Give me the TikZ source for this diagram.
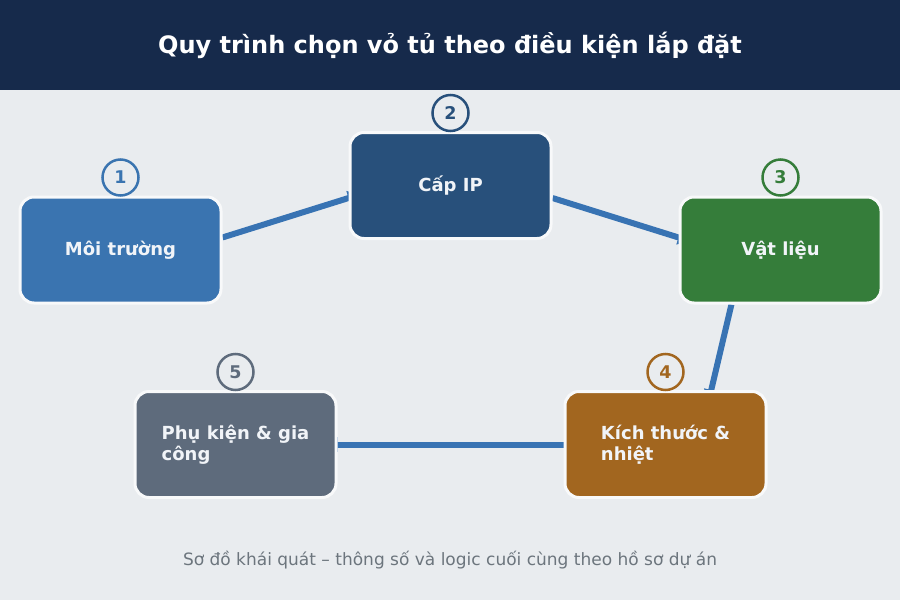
\documentclass[tikz,border=0pt]{standalone}
\usepackage{fontspec}
\setmainfont{DejaVu Sans}
\usetikzlibrary{arrows.meta,calc}
\definecolor{bgc}{HTML}{E9ECEF}
\definecolor{titlec}{HTML}{162A4B}
\definecolor{cone}{HTML}{3A74B0}
\definecolor{ctwo}{HTML}{28507B}
\definecolor{cthree}{HTML}{357D3A}
\definecolor{cfour}{HTML}{A2661F}
\definecolor{cfive}{HTML}{5E6B7C}
\definecolor{arrowc}{HTML}{3873B3}
\definecolor{footc}{HTML}{6C757D}
\definecolor{edgec}{HTML}{F8F9FA}
\definecolor{textc}{HTML}{F1F4F8}
\pgfdeclarelayer{bglayer}
\pgfdeclarelayer{arrowlayer}
\pgfsetlayers{bglayer,arrowlayer,main}
\tikzset{
  stepbox/.style={draw=edgec, fill=#1, line width=3pt, rounded corners=14pt,
    minimum width=201pt, minimum height=106pt, text=textc, inner sep=0pt,
    font=\bfseries\fontsize{18}{21}\selectfont, align=left},
  numc/.style={circle, draw=#1, fill=bgc, text=#1, line width=2.5pt,
    minimum size=36pt, inner sep=0pt, font=\bfseries\fontsize{17.5}{20}\selectfont},
  flow/.style={draw=arrowc, line width=6pt, shorten >=-12pt,
    -{Triangle[length=12pt,width=14pt]}}
}
\begin{document}
\begin{tikzpicture}[x=1pt,y=-1pt]
\useasboundingbox (0,0) rectangle (900,600);
\begin{pgfonlayer}{bglayer}
\fill[bgc] (0,0) rectangle (900,600);
\fill[titlec] (0,0) rectangle (900,90);
\end{pgfonlayer}
\node[text=white, font=\bfseries\fontsize{24}{28}\selectfont] (title) at (450,45) {Quy trình chọn vỏ tủ theo điều kiện lắp đặt};

\node[stepbox=cone] (n1) at (120.5,250) {Môi trường};
\node[stepbox=ctwo] (n2) at (450.5,185.5) {Cấp IP};
\node[stepbox=cthree] (n3) at (780.5,250) {Vật liệu};
\node[stepbox=cfour] (n4) at (665.5,444.5) {Kích thước \&\\nhiệt};
\node[stepbox=cfive] (n5) at (235.5,444.5) {Phụ kiện \& gia\\công};

\node[numc=cone] (k1) at ($(n1.north)+(0,-18)$) {1};
\node[numc=ctwo] (k2) at ($(n2.north)+(0,-18)$) {2};
\node[numc=cthree] (k3) at ($(n3.north)+(0,-18)$) {3};
\node[numc=cfour] (k4) at ($(n4.north)+(0,-18)$) {4};
\node[numc=cfive] (k5) at ($(n5.north)+(0,-18)$) {5};

\begin{pgfonlayer}{arrowlayer}
\draw[flow] (n1.7) -- (n2.187);
\draw[flow] (n2.-7) -- (n3.173);
\draw[flow] (n3.-132) -- (n4.50);
\draw[flow] (n4.west) -- (n5.east);
\end{pgfonlayer}

\node[text=footc, font=\fontsize{17}{20}\selectfont] (foot) at (450,560) {Sơ đồ khái quát – thông số và logic cuối cùng theo hồ sơ dự án};
\end{tikzpicture}
\end{document}
